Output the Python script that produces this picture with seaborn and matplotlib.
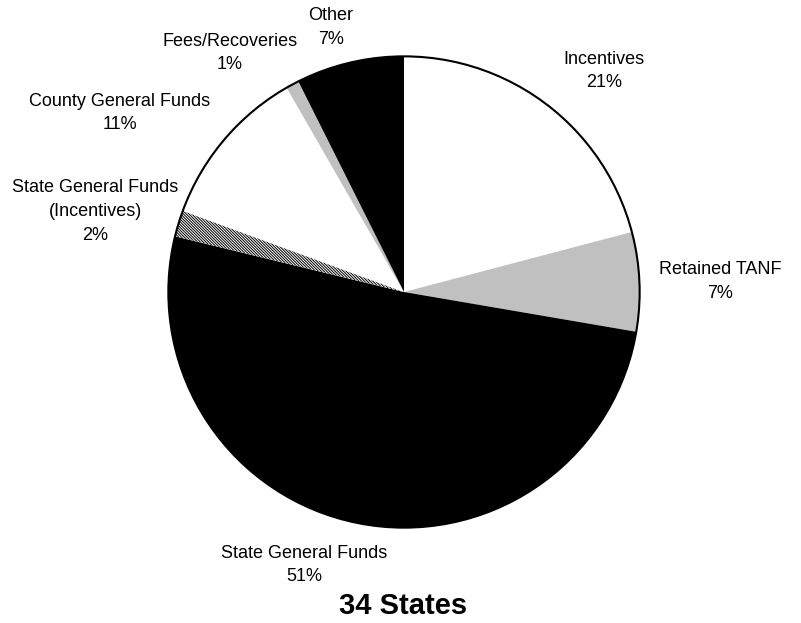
import matplotlib
matplotlib.use("Agg")
import matplotlib.pyplot as plt
import seaborn as sns
from matplotlib.patches import Circle

sns.set_theme(style="white")
plt.rcParams['font.family'] = ['Liberation Sans', 'DejaVu Sans']
plt.rcParams['hatch.linewidth'] = 0.7
plt.rcParams['hatch.color'] = 'black'

# Data (clockwise from 12 o'clock)
categories = ["Incentives", "Retained TANF", "State General Funds",
              "State General Funds\n(Incentives)", "County General Funds",
              "Fees/Recoveries", "Other"]
values = [20.9, 6.8, 51.1, 1.8, 11.1, 0.9, 7.4]
pct_labels = ["21%", "7%", "51%", "2%", "11%", "1%", "7%"]
colors = ["#FFFFFF", "#C0C0C0", "#000000", "#FFFFFF", "#FFFFFF", "#C0C0C0", "#000000"]
hatches = [None, None, None, "\\" * 12, None, None, None]
title = "34 States"

W, H = 801, 623
fig = plt.figure(figsize=(W / 100, H / 100), dpi=100)
cx, cy, r = 404, 292, 238
ax = fig.add_axes([(cx - r) / W, (H - cy - r) / H, 2 * r / W, 2 * r / H])

wedges, _ = ax.pie(values, colors=colors, startangle=90, counterclock=False,
                   radius=1, wedgeprops=dict(linewidth=0, edgecolor="none"))
for w, h in zip(wedges, hatches):
    if h:
        w.set_hatch(h)
        w.set_edgecolor("black")
        w.set_linewidth(0)
ax.add_patch(Circle((0, 0), 1, fill=False, edgecolor="black", linewidth=1.5))
ax.set_xlim(-1.01, 1.01)
ax.set_ylim(-1.01, 1.01)
ax.set_aspect("equal")
ax.axis("off")

# label positions in pixels (center x, top-line center y)
label_pos = [(604, 59), (720, 270), (304, 553),
             (95, 188), (120, 101), (230, 41), (331, 16)]
line_h = 23.5
for cat, pct, (px, py) in zip(categories, pct_labels, label_pos):
    lines = cat.split("\n") + [pct]
    for i, line in enumerate(lines):
        fig.text(px / W, 1 - (py + i * line_h) / H, line, ha="center", va="center",
                 fontsize=13, color="black")

fig.text(403 / W, 1 - 606 / H, title, ha="center", va="center",
         fontsize=21, fontweight="bold", color="black")

fig.savefig("out.png", dpi=100, facecolor="white")
